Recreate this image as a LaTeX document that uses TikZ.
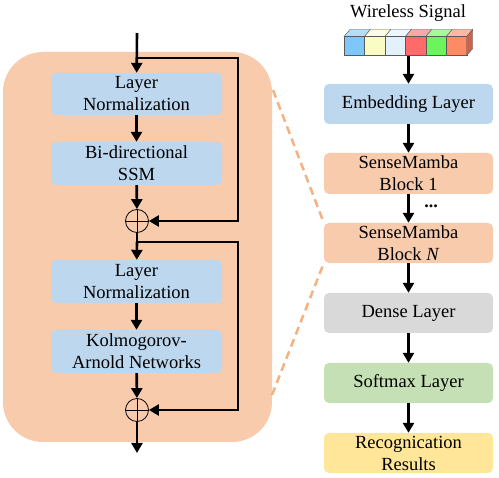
\documentclass[tikz,border=0pt]{standalone}
\usepackage{fontspec}
\setmainfont{Liberation Serif}
\usetikzlibrary{arrows.meta,calc}
\definecolor{peach}{HTML}{F8CBAD}
\definecolor{dashc}{HTML}{F4B183}
\definecolor{lblue}{HTML}{BDD7EE}
\definecolor{lgray}{HTML}{D9D9D9}
\definecolor{lgreen}{HTML}{C5E0B4}
\definecolor{lyellow}{HTML}{FFE699}
\definecolor{sidec}{RGB}{200,100,80}
\tikzset{
  blk/.style={rounded corners=5pt, inner sep=0pt, align=center, font=\fontsize{18.5}{22}\selectfont},
  arr/.style={line width=2.6pt, -{Triangle[length=10pt,width=11pt]}},
  ln/.style={line width=2.6pt},
  sumc/.style={circle, draw, line width=0.8pt, minimum size=23pt, inner sep=0pt,
    path picture={\draw[line width=0.8pt] (path picture bounding box.north) -- (path picture bounding box.south)
      (path picture bounding box.west) -- (path picture bounding box.east);}},
  cube/.style={draw=gray!70!black, line width=0.4pt},
}
\begin{document}
\begin{tikzpicture}[x=1pt,y=-1pt]
\useasboundingbox (0,0) rectangle (499,478);
% big background
\node[fill=peach, rounded corners=40pt, minimum width=269pt, minimum height=390pt, inner sep=0pt] (big) at (137.5,247) {};
% dashed lines
\coordinate (d1) at (273,90);
\coordinate (d2) at (272,395);
% left blocks
\node[blk, fill=lblue, minimum width=171pt, minimum height=42pt] (ln1) at (136.5,94) {Layer\\Normalization};
\node[blk, fill=lblue, minimum width=171pt, minimum height=43pt] (ssm) at (136.5,163.5) {Bi-directional\\SSM};
\node[sumc] (s1) at (137,221) {};
\node[blk, fill=lblue, minimum width=171pt, minimum height=43pt] (ln2) at (136.5,281.5) {Layer\\Normalization};
\node[blk, fill=lblue, minimum width=171pt, minimum height=43pt] (kan) at (136.5,351.5) {Kolmogorov-\\Arnold Networks};
\node[sumc] (s2) at (137,410) {};
\coordinate (in) at (137,33);
\coordinate (out) at (137,453);
\coordinate (b1) at (137,58);
\coordinate (b2) at (137,242);
% arrows left
\draw[arr] (in) -- (ln1);
\draw[arr] (ln1) -- (ssm);
\draw[arr] (ssm) -- (s1);
\draw[ln] (s1) -- (b2);
\draw[arr] (b2) -- (ln2);
\draw[arr] (ln2) -- (kan);
\draw[arr] (kan) -- (s2);
\draw[arr] (s2) -- (out);
\draw[arr] (b1) -- (238,58) -- (238,221) -- (s1);
\draw[arr] (b2) -- (238,242) -- (238,410) -- (s2);
% right column
\node[font=\fontsize{18.5}{21}\selectfont] (ws) at (408,13) {Wireless Signal};
% cubes
\foreach \i/\c in {0/7FC7FA,1/F9FDC4,2/E3F1FD,3/FF6B6B,4/6CF55A,5/FF8B66}{
  \definecolor{cc}{HTML}{\c}
  \pgfmathsetmacro{\xa}{344+\i*20.45}
  \pgfmathsetmacro{\xb}{344+(\i+1)*20.45}
  \filldraw[cube, fill=cc!60!white] (\xa,36.5) -- (\xa+6,29.5) -- (\xb+6,29.5) -- (\xb,36.5) -- cycle;
  \filldraw[cube, fill=cc] (\xa,36.5) rectangle (\xb,55.5);
}
\filldraw[cube, fill=sidec] (466.7,36.5) -- (472.7,29.5) -- (472.7,48.5) -- (466.7,55.5) -- cycle;
\node[inner sep=0pt, minimum width=123pt, minimum height=19pt] (sig) at (405.35,46) {};
\node[blk, fill=lblue, minimum width=169pt, minimum height=40pt] (emb) at (408.5,104) {Embedding Layer};
\node[blk, fill=peach, minimum width=169pt, minimum height=41pt] (bk1) at (408.5,173.5) {SenseMamba\\Block 1};
\node[blk, fill=peach, minimum width=169pt, minimum height=40pt] (bkn) at (408.5,243) {SenseMamba\\Block \textit{N}};
\node[blk, fill=lgray, minimum width=169pt, minimum height=40pt] (dense) at (408.5,313) {Dense Layer};
\node[blk, fill=lgreen, minimum width=169pt, minimum height=40pt] (soft) at (408.5,383) {Softmax Layer};
\node[blk, fill=lyellow, minimum width=169pt, minimum height=40pt] (res) at (408.5,453) {Recognication\\Results};
\node[font=\fontsize{18}{20}\selectfont\bfseries, inner sep=0pt] (dots) at (431,206) {...};
\draw[arr] (sig.south -| emb.north) -- (emb);
\draw[arr] (emb) -- (bk1);
\draw[arr] (bk1) -- (bkn);
\draw[arr] (bkn) -- (dense);
\draw[arr] (dense) -- (soft);
\draw[arr] (soft) -- (res);
\draw[dashc, line width=2.5pt, dash pattern=on 8pt off 5pt] (d1) -- (bkn.north west);
\draw[dashc, line width=2.5pt, dash pattern=on 8pt off 5pt] (d2) -- (bkn.south west);
\end{tikzpicture}
\end{document}
